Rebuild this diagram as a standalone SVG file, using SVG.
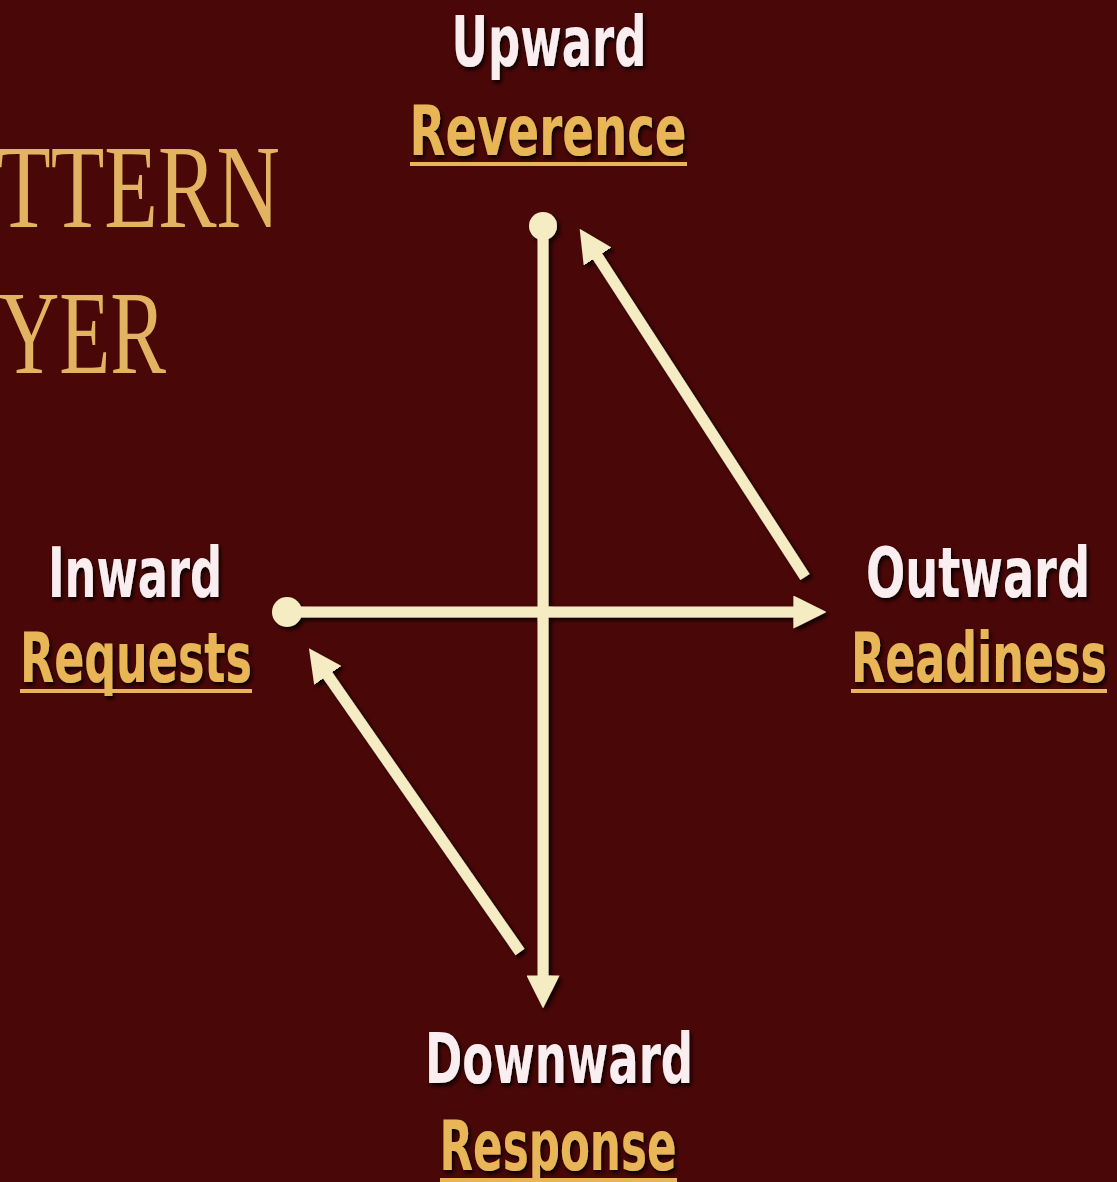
<svg xmlns="http://www.w3.org/2000/svg" width="1117" height="1182" viewBox="0 0 1117 1182">
  <defs>
    <style>
      .title { font-family: "Liberation Serif", "DejaVu Serif", serif; font-size: 118px; fill: #e2b462; }
      .dir { font-family: "Liberation Sans Narrow", "DejaVu Sans Condensed", "Liberation Sans", sans-serif; font-size: 70px; font-weight: bold; fill: #fbeef0; filter: url(#tshadow); }
      .key { font-family: "Liberation Sans Narrow", "DejaVu Sans Condensed", "Liberation Sans", sans-serif; font-size: 70px; font-weight: bold; fill: #e8b656; filter: url(#tshadow); }
      .ul { stroke: #e8b656; stroke-width: 4; }
      .conn { stroke: #f6ecc4; stroke-width: 11; fill: none; }
      .dot { fill: #f6ecc4; }
    </style>
    <filter id="tshadow" x="-10%" y="-20%" width="120%" height="150%">
      <feDropShadow dx="2" dy="3" stdDeviation="2" flood-color="#000" flood-opacity="0.9"/>
    </filter>
    <filter id="lshadow" x="-20%" y="-20%" width="140%" height="140%">
      <feDropShadow dx="3" dy="3" stdDeviation="2" flood-color="#000" flood-opacity="0.8"/>
    </filter>
    <marker id="arrow" viewBox="0 0 10 10" refX="2" refY="5" markerWidth="3" markerHeight="3" orient="auto" markerUnits="strokeWidth">
      <path d="M0,0 L10,5 L0,10 Z" fill="#f6ecc4"/>
    </marker>
  </defs>

  <rect width="1117" height="1182" fill="#4a0707"/>

  <g id="title">
    <text class="title" x="-3" y="227" textLength="283" lengthAdjust="spacingAndGlyphs">TTERN</text>
    <text class="title" x="-1" y="373" textLength="167" lengthAdjust="spacingAndGlyphs">YER</text>
  </g>

  <g id="connectors" filter="url(#lshadow)">
    <line class="conn" x1="543" y1="226" x2="543" y2="982" marker-end="url(#arrow)"/>
    <line class="conn" x1="287" y1="612" x2="800" y2="612" marker-end="url(#arrow)"/>
    <line class="conn" x1="805" y1="577" x2="594" y2="251" marker-end="url(#arrow)"/>
    <line class="conn" x1="520" y1="952" x2="324" y2="670" marker-end="url(#arrow)"/>
    <circle class="dot" cx="543" cy="226" r="14"/>
    <circle class="dot" cx="287" cy="612" r="15"/>
  </g>

  <g id="upward">
    <text class="dir" x="549" y="66" text-anchor="middle" textLength="195" lengthAdjust="spacingAndGlyphs">Upward</text>
    <text class="key" x="548" y="155" text-anchor="middle" textLength="277" lengthAdjust="spacingAndGlyphs">Reverence</text>
    <line class="ul" x1="410" y1="164" x2="687" y2="164"/>
  </g>

  <g id="inward">
    <text class="dir" x="135" y="597" text-anchor="middle" textLength="174" lengthAdjust="spacingAndGlyphs">Inward</text>
    <text class="key" x="136" y="682" text-anchor="middle" textLength="232" lengthAdjust="spacingAndGlyphs">Requests</text>
    <line class="ul" x1="20" y1="691" x2="252" y2="691"/>
  </g>

  <g id="outward">
    <text class="dir" x="978" y="597" text-anchor="middle" textLength="224" lengthAdjust="spacingAndGlyphs">Outward</text>
    <text class="key" x="979" y="682" text-anchor="middle" textLength="256" lengthAdjust="spacingAndGlyphs">Readiness</text>
    <line class="ul" x1="851" y1="691" x2="1107" y2="691"/>
  </g>

  <g id="downward">
    <text class="dir" x="559" y="1083" text-anchor="middle" textLength="268" lengthAdjust="spacingAndGlyphs">Downward</text>
    <text class="key" x="558" y="1170" text-anchor="middle" textLength="237" lengthAdjust="spacingAndGlyphs">Response</text>
    <line class="ul" x1="440" y1="1180" x2="677" y2="1180"/>
  </g>
</svg>
